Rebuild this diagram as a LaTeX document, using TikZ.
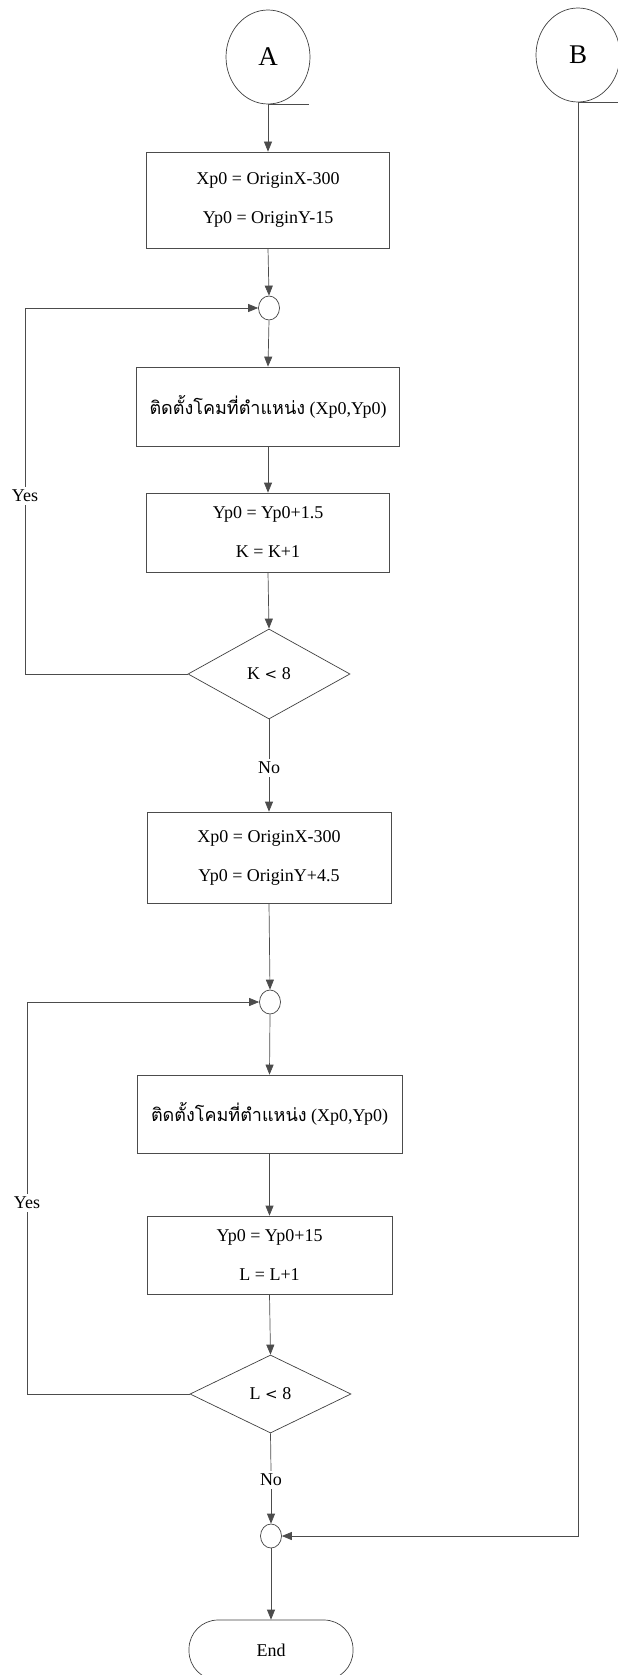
\documentclass[tikz,border=0pt]{standalone}
\usepackage{fontspec}
\setmainfont{Liberation Serif}
\newfontfamily\thai[Script=Thai]{Loma}
\usetikzlibrary{shapes.geometric,arrows.meta,calc}
\begin{document}
\begin{tikzpicture}[x=1pt,y=1pt,
  line/.style={draw=black!70,line width=0.7pt},
  arr/.style={line,-{Triangle[length=10pt,width=8pt]}},
  conn/.style={ellipse,draw=black!75,line width=0.7pt,minimum width=84pt,minimum height=94pt,inner sep=0pt,font=\fontsize{27}{30}\selectfont},
  junc/.style={ellipse,draw=black!75,line width=0.7pt,minimum width=21pt,minimum height=24pt,inner sep=0pt},
  proc/.style={rectangle,draw=black!70,line width=0.7pt,inner sep=0pt,align=center,font=\fontsize{18}{39}\selectfont},
  dec/.style={diamond,draw=black!75,line width=0.7pt,inner sep=0pt,font=\fontsize{18}{22}\selectfont},
  term/.style={rectangle,rounded corners=29pt,draw=black!75,line width=0.7pt,minimum width=164pt,minimum height=60pt,inner sep=0pt,font=\fontsize{18}{22}\selectfont},
  lbl/.style={fill=white,inner sep=3pt,font=\fontsize{18}{22}\selectfont}]
\useasboundingbox (0,0) rectangle (618,-1675);
% connectors A and B
\node[conn] (A) at (268,-57) {A};
\node[conn] (B) at (578,-55) {B};
\coordinate (Atail) at ($(A.south)+(41,0)$);
\coordinate (Btail) at ($(B.south)+(45,0)$);
\draw[line] (A.south) -- (Atail);
\draw[line] (B.south) -- (Btail);
% first loop
\node[proc,minimum width=243pt,minimum height=96pt] (b1) at (268,-200) {Xp0 = OriginX-300\\Yp0 = OriginY-15};
\node[junc] (c1) at (269,-308) {};
\node[proc,minimum width=263pt,minimum height=79pt] (b2) at (268,-406.5) {{\thai ติดตั้งโคมที่ตำแหน่ง} (Xp0,Yp0)};
\node[proc,minimum width=243pt,minimum height=79pt] (b3) at (268,-532.5) {Yp0 = Yp0+1.5\\K = K+1};
\node[dec,minimum width=162pt,minimum height=90pt] (d1) at (269,-674) {K {\fontspec{DejaVu Serif}\fontsize{15}{18}\selectfont <} 8};
\node[lbl] (no1) at (269,-768) {No};
\node[lbl] (yes1) at (25,-496) {Yes};
% second loop
\node[proc,minimum width=244pt,minimum height=91pt] (b4) at (269,-857.5) {Xp0 = OriginX-300\\Yp0 = OriginY+4.5};
\node[junc] (c2) at (270,-1002) {};
\node[proc,minimum width=265pt,minimum height=78pt] (b5) at (269.5,-1114) {{\thai ติดตั้งโคมที่ตำแหน่ง} (Xp0,Yp0)};
\node[proc,minimum width=245pt,minimum height=78pt] (b6) at (269.5,-1255) {Yp0 = Yp0+15\\L = L+1};
\node[dec,minimum width=161pt,minimum height=78pt] (d2) at (270.5,-1394) {L {\fontspec{DejaVu Serif}\fontsize{15}{18}\selectfont <} 8};
\node[lbl] (no2) at (271,-1480) {No};
\node[lbl] (yes2) at (27,-1203) {Yes};
% merge and end
\node[junc] (m) at (271,-1536) {};
\node[term] (E) at (271,-1650) {End};
% arrows
\draw[arr] (A.south) -- (b1.north);
\draw[arr] (b1.south) -- (c1.north);
\draw[arr] (c1.south) -- (b2.north);
\draw[arr] (b2.south) -- (b3.north);
\draw[arr] (b3.south) -- (d1.north);
\draw[line] (d1.south) -- (no1.north);
\draw[arr] (no1.south) -- (b4.north);
\draw[line] (d1.west) -| (yes1.south);
\draw[arr] (yes1.north) |- (c1.west);
\draw[arr] (b4.south) -- (c2.north);
\draw[arr] (c2.south) -- (b5.north);
\draw[arr] (b5.south) -- (b6.north);
\draw[arr] (b6.south) -- (d2.north);
\draw[line] (d2.south) -- (no2.north);
\draw[arr] (no2.south) -- (m.north);
\draw[line] (d2.west) -| (yes2.south);
\draw[arr] (yes2.north) |- (c2.west);
\draw[arr] (B.south) |- (m.east);
\draw[arr] (m.south) -- (E.north);
\end{tikzpicture}
\end{document}
